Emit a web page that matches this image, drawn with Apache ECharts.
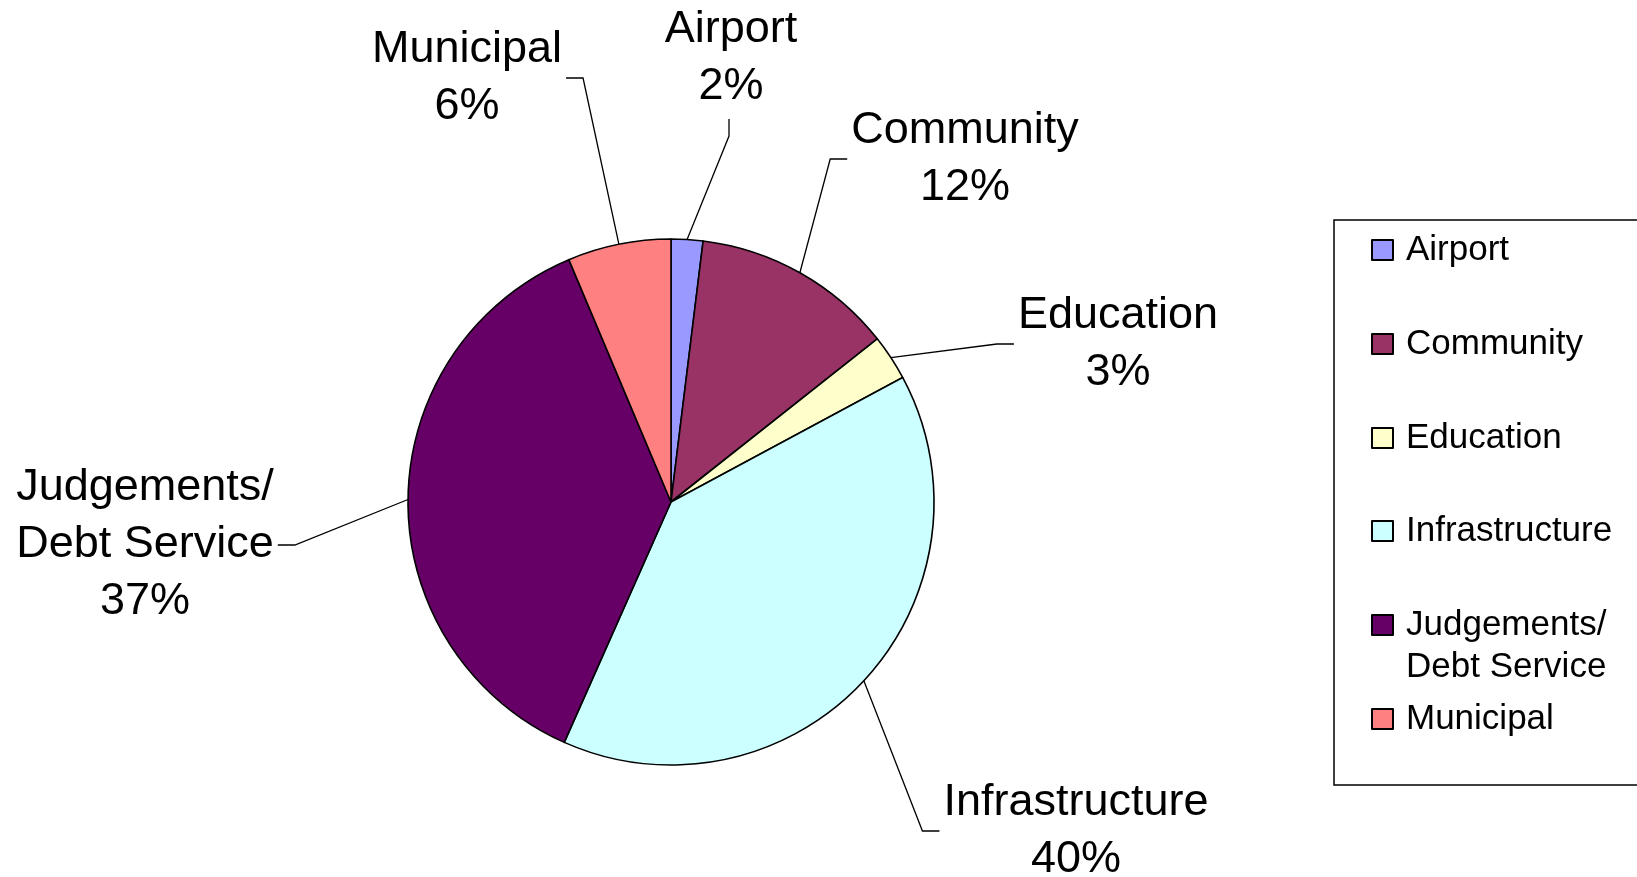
<!DOCTYPE html>
<html>
<head>
<meta charset="utf-8">
<script src="https://cdn.jsdelivr.net/npm/echarts@6/dist/echarts.min.js"></script>
<style>
  html, body { margin: 0; padding: 0; background: #fff; }
  #chart { width: 1637px; height: 877px; }
</style>
</head>
<body>
<div id="chart"></div>
<script>
// ---- data ----
var categories = ['Airport', 'Community', 'Education', 'Infrastructure', 'Judgements/\nDebt Service', 'Municipal'];
var shares = [1.95, 12.4, 2.8, 39.5, 37.0, 6.35];
var colors = ['#9999FF', '#993366', '#FFFFCC', '#CCFFFF', '#660066', '#FF8080'];

// ---- layout (positions only) ----
var labelCenters = [[731, 58], [965, 159], [1118, 344], [1076, 831], [145, 545], [467, 78]];
var labelSides = ['bottom', 'left', 'left', 'left', 'right', 'right'];
var legendIconCenters = [250, 344, 438, 531, 625, 719];
var FONT = "'Liberation Sans', Arial, sans-serif";

var chart = echarts.init(document.getElementById('chart'), null, { renderer: 'canvas' });

var seriesData = categories.map(function (c, i) {
  return { name: c, value: shares[i], itemStyle: { color: colors[i] } };
});

var LEG_LH = 42;
var legends = categories.map(function (c, i) {
  var multi = c.indexOf('\n') >= 0;
  return {
    show: true,
    data: [c],
    orient: 'vertical',
    left: 1371,
    top: legendIconCenters[i] - (multi ? 1.5 * LEG_LH : LEG_LH / 2),
    padding: 0,
    itemWidth: 21,
    itemHeight: 20,
    icon: 'rect',
    selectedMode: false,
    formatter: function (name) { return multi ? '\n' + name : name; },
    textStyle: {
      fontFamily: FONT,
      fontSize: 35,
      lineHeight: LEG_LH,
      color: '#000',
      padding: [0, 0, 0, 8]
    }
  };
});

var option = {
  animation: false,
  backgroundColor: '#fff',
  legend: legends,
  graphic: [{
    type: 'rect',
    shape: { x: 1334, y: 220, width: 400, height: 565 },
    style: { fill: 'none', stroke: '#000', lineWidth: 1.5 },
    z: 0
  }],
  series: [{
    type: 'pie',
    center: [671, 502],
    radius: 263,
    startAngle: 90,
    clockwise: true,
    percentPrecision: 0,
    avoidLabelOverlap: false,
    itemStyle: { borderColor: '#000', borderWidth: 1.6 },
    emphasis: { disabled: true },
    label: {
      show: true,
      position: 'outer',
      alignTo: 'none',
      formatter: '{b}\n{d}%',
      fontFamily: FONT,
      fontSize: 45,
      lineHeight: 57,
      color: '#000'
    },
    labelLine: {
      show: true,
      length: 20,
      length2: 15,
      lineStyle: { color: '#000', width: 1.3 }
    },
    labelLayout: function (params) {
      var i = params.dataIndex;
      var cx = labelCenters[i][0], cy = labelCenters[i][1];
      var w = params.labelRect.width, h = params.labelRect.height;
      var side = labelSides[i];
      var p0 = params.labelLinePoints ? params.labelLinePoints[0] : null;
      var gap = 4, seg = 17, p1, p2;
      if (side === 'right') { p2 = [cx + w / 2 + gap, cy]; p1 = [p2[0] + seg, cy]; }
      else if (side === 'left') { p2 = [cx - w / 2 - gap, cy]; p1 = [p2[0] - seg, cy]; }
      else if (side === 'bottom') { p2 = [cx - 2, cy + h / 2 + gap]; p1 = [cx - 2, p2[1] + seg]; }
      else { p2 = [cx, cy - h / 2 - gap]; p1 = [cx, p2[1] - seg]; }
      var res = { x: cx, y: cy, align: 'center', verticalAlign: 'middle' };
      if (p0) res.labelLinePoints = [p0, p1, p2];
      return res;
    },
    data: seriesData
  }]
};

chart.setOption(option);
</script>
</body>
</html>
